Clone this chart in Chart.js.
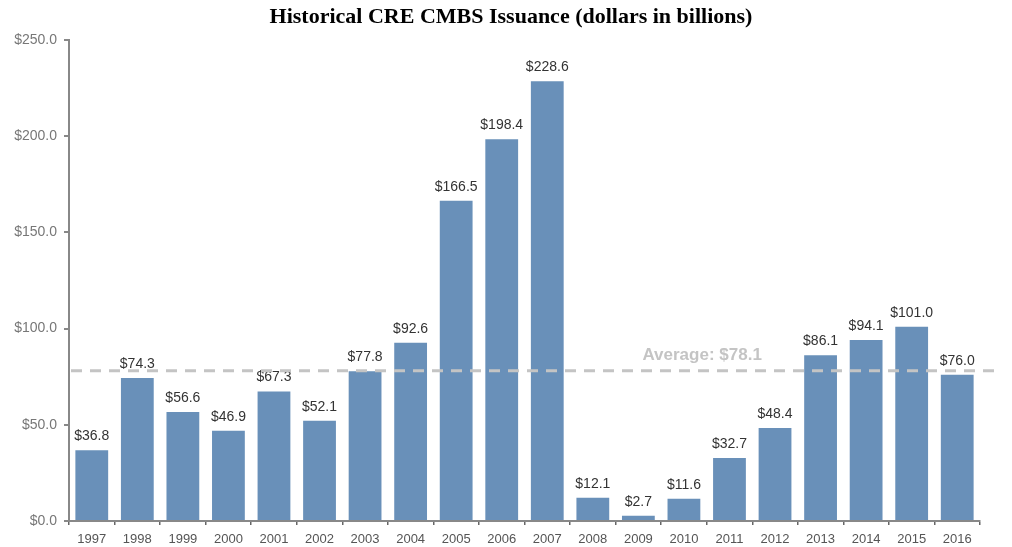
<!DOCTYPE html>
<html>
<head>
<meta charset="utf-8">
<script src="https://cdn.jsdelivr.net/npm/chart.js@4/dist/chart.umd.min.js"></script>
<style>
  html, body { margin: 0; padding: 0; background: #fff; }
  #wrap { width: 1012px; height: 547px; }
</style>
</head>
<body>
<div id="wrap"><canvas id="cmbsChart" width="1012" height="547"></canvas></div>
<script>
var years = ['1997', '1998', '1999', '2000', '2001', '2002', '2003', '2004', '2005', '2006',
             '2007', '2008', '2009', '2010', '2011', '2012', '2013', '2014', '2015', '2016'];
var issuance = [36.8, 74.3, 56.6, 46.9, 67.3, 52.1, 77.8, 92.6, 166.5, 198.4,
                228.6, 12.1, 2.7, 11.6, 32.7, 48.4, 86.1, 94.1, 101.0, 76.0];
var averageIssuance = 78.1;
var yTicks = [0, 50, 100, 150, 200, 250];
var chartTitle = 'Historical CRE CMBS Issuance (dollars in billions)';

function money(v) {
    return '$' + v.toFixed(1);
}

// title centred on the whole canvas, not just the plot
var pageTitle = {
    id: 'pageTitle',
    afterDraw: function(chart) {
        var ctx = chart.ctx;
        ctx.save();
        ctx.font = 'bold 22px "Liberation Serif", "Times New Roman", serif';
        ctx.fillStyle = '#000';
        ctx.textAlign = 'center';
        ctx.textBaseline = 'middle';
        ctx.fillText(chartTitle, chart.width / 2 + 5, 17);
        ctx.restore();
    }
};

// value labels above each bar
var barLabels = {
    id: 'barLabels',
    afterDatasetsDraw: function(chart) {
        var ctx = chart.ctx;
        var meta = chart.getDatasetMeta(0);
        ctx.save();
        ctx.font = '14px "Liberation Sans", Arial, sans-serif';
        ctx.fillStyle = '#333';
        ctx.textAlign = 'center';
        ctx.textBaseline = 'bottom';
        for (var i = 0; i < meta.data.length; i++) {
            var bar = meta.data[i];
            ctx.fillText(money(issuance[i]), bar.x, bar.y - 7);
        }
        ctx.restore();
    }
};

// dashed average line, drawn over the bars
var averageLine = {
    id: 'averageLine',
    afterDatasetsDraw: function(chart) {
        var ctx = chart.ctx;
        var area = chart.chartArea;
        var y = chart.scales.y.getPixelForValue(averageIssuance);
        ctx.save();
        ctx.strokeStyle = '#c4c4c4';
        ctx.lineWidth = 3;
        ctx.setLineDash([11, 8]);
        ctx.beginPath();
        ctx.moveTo(area.left + 2, y);
        ctx.lineTo(area.right + 15, y);
        ctx.stroke();
        ctx.setLineDash([]);
        ctx.font = 'bold 17px "Liberation Sans", Arial, sans-serif';
        ctx.fillStyle = '#c4c4c4';
        ctx.textAlign = 'center';
        ctx.textBaseline = 'middle';
        ctx.fillText('Average: ' + money(averageIssuance), chart.scales.x.getPixelForValue(13.4), y - 15);
        ctx.restore();
    }
};

var ctx = document.getElementById('cmbsChart').getContext('2d');
var chart = new Chart(ctx, {
    type: 'bar',
    data: {
        labels: years,
        datasets: [{
            data: issuance,
            backgroundColor: '#6990b9',
            borderWidth: 0,
            barPercentage: 0.72,
            categoryPercentage: 1.0
        }]
    },
    options: {
        responsive: false,
        animation: false,
        layout: { padding: { left: 0, right: 32, top: 40, bottom: 0 } },
        plugins: {
            legend: { display: false },
            tooltip: { enabled: false },
            title: { display: false }
        },
        scales: {
            y: {
                min: 0,
                max: 250,
                afterBuildTicks: function(scale) {
                    scale.ticks = yTicks.map(function(v) { return { value: v }; });
                },
                afterFit: function(scale) { scale.width = 69; },
                ticks: {
                    color: '#777',
                    font: { family: '"Liberation Sans", Arial, sans-serif', size: 14 },
                    padding: 7,
                    callback: function(v) { return money(v); }
                },
                grid: { drawOnChartArea: false, drawTicks: true, tickLength: 5, color: '#888', lineWidth: 2 },
                border: { display: true, color: '#888', width: 2 }
            },
            x: {
                afterFit: function(scale) { scale.height = 26; },
                ticks: {
                    color: '#555',
                    font: { family: '"Liberation Sans", Arial, sans-serif', size: 13 },
                    padding: 7,
                    maxRotation: 0
                },
                grid: { offset: true, drawOnChartArea: false, drawTicks: true, tickLength: 4, color: '#666', lineWidth: 1.5 },
                border: { display: true, color: '#888', width: 2 }
            }
        }
    },
    plugins: [pageTitle, barLabels, averageLine]
});
</script>
</body>
</html>
